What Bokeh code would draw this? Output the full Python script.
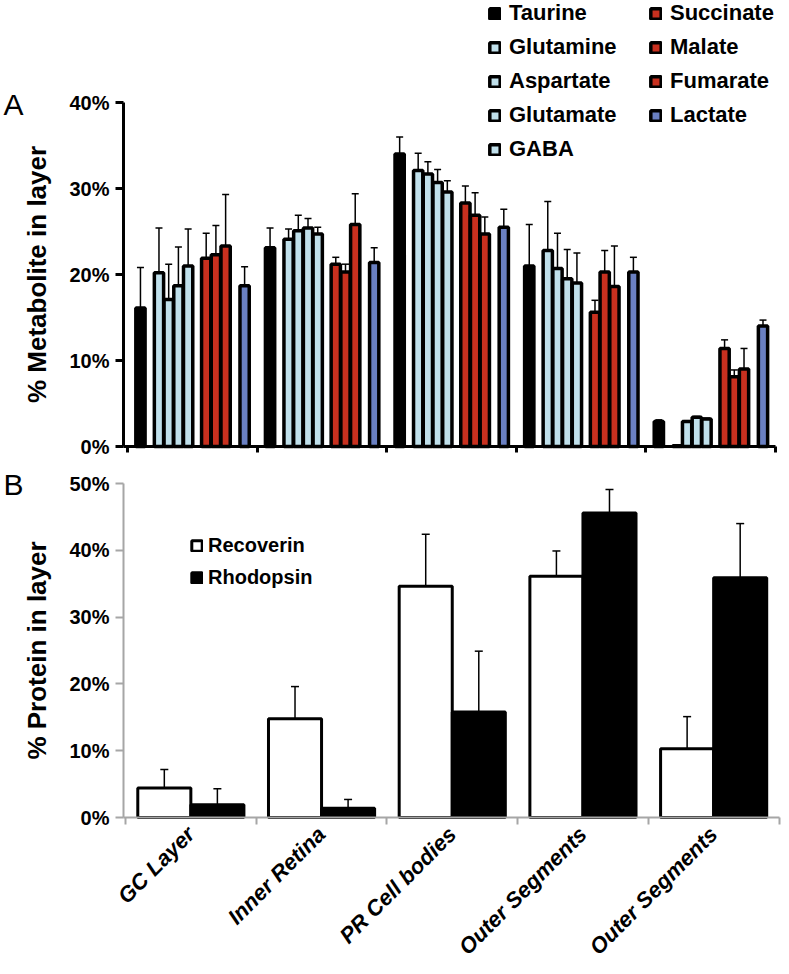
import math
from bokeh.plotting import figure
from bokeh.models import (ColumnDataSource, Range1d, FixedTicker, PrintfTickFormatter,
                          Whisker, TeeHead, Legend, LegendItem, Label)
from bokeh.layouts import column
from bokeh.embed import file_html
from bokeh.resources import INLINE

# ---------------- data ----------------
layers = ["GC Layer", "Inner Retina", "PR Cell bodies", "Outer Segments", "Outer Segments"]

metabolites = ["Taurine", "Glutamine", "Aspartate", "Glutamate", "GABA",
               "Succinate", "Malate", "Fumarate", "Lactate"]

taurine = [16.1, 23.1, 34.0, 21.0, 2.9]
taurine_err = [4.7, 2.3, 2.0, 4.8, 0.2]
glutamine = [20.2, 24.1, 32.1, 22.8, 0.1]
glutamine_err = [5.2, 1.2, 2.0, 5.7, 0.0]
aspartate = [17.1, 25.1, 31.7, 20.7, 2.9]
aspartate_err = [4.1, 1.8, 1.4, 4.1, 0.1]
glutamate = [18.7, 25.4, 30.7, 19.5, 3.4]
glutamate_err = [4.5, 1.1, 1.5, 3.4, 0.1]
gaba = [21.0, 24.7, 29.6, 19.0, 3.2]
gaba_err = [4.3, 0.8, 1.3, 3.5, 0.1]
succinate = [21.9, 21.2, 28.3, 15.6, 11.4]
succinate_err = [2.9, 0.8, 2.0, 1.4, 1.0]
malate = [22.3, 20.3, 26.9, 20.3, 8.1]
malate_err = [3.4, 0.9, 2.6, 2.5, 0.8]
fumarate = [23.3, 25.8, 24.7, 18.6, 9.0]
fumarate_err = [6.0, 3.6, 2.0, 4.7, 2.4]
lactate = [18.7, 21.4, 25.5, 20.3, 14.0]
lactate_err = [2.2, 1.7, 2.1, 1.7, 0.7]

met_values = [taurine, glutamine, aspartate, glutamate, gaba, succinate, malate, fumarate, lactate]
met_errors = [taurine_err, glutamine_err, aspartate_err, glutamate_err, gaba_err,
              succinate_err, malate_err, fumarate_err, lactate_err]

proteins = ["Recoverin", "Rhodopsin"]
recoverin = [4.4, 14.8, 34.6, 36.1, 10.3]
recoverin_err = [2.8, 4.8, 7.8, 3.8, 4.8]
rhodopsin = [1.9, 1.4, 15.8, 45.6, 35.9]
rhodopsin_err = [2.4, 1.3, 9.1, 3.5, 8.1]

yticks_a = [0, 10, 20, 30, 40]
yticks_b = [0, 10, 20, 30, 40, 50]

# ---------------- styles / layout ----------------
LIGHT_BLUE = "#c0e0eb"
RED = "#c8301f"
LACT = "#6a80c2"
met_colors = ["#000000", LIGHT_BLUE, LIGHT_BLUE, LIGHT_BLUE, LIGHT_BLUE, RED, RED, RED, LACT]
slot_offsets = [1.4, 3.4, 4.45, 5.5, 6.55, 8.5, 9.55, 10.6, 12.65]
SLOTS = 14
GRAY = "#a6a6a6"
FONT = "Liberation Sans"
W = 785

# panel A geometry (pixels in the page)
A_BOTTOM, A_AXIS_X, A_G0_X, A_SLOT_PX = 463, 123, 127, 9.257
A_ZERO_Y, A_PX_PER = 446, 8.6
# panel B geometry
B_TOP, B_BOTTOM, B_AXIS_X, B_G0_X, B_GROUP_PX = 463, 967, 123, 125, 130.7
B_ZERO_Y, B_PX_PER = 817, 6.68


def style_common(p):
    p.xgrid.visible = False
    p.ygrid.visible = False
    p.outline_line_color = None
    p.background_fill_color = "white"
    p.border_fill_color = "white"


def style_yaxis(ax, color, width, title):
    ax.axis_line_color = color
    ax.axis_line_width = width
    ax.major_tick_line_color = color
    ax.major_tick_line_width = width
    ax.major_tick_out = 8
    ax.major_tick_in = 0
    ax.minor_tick_line_color = None
    ax.formatter = PrintfTickFormatter(format="%d%%")
    ax.major_label_text_font = FONT
    ax.major_label_text_font_size = "20px"
    ax.major_label_text_font_style = "bold"
    ax.major_label_text_color = "black"
    ax.major_label_standoff = 6
    ax.axis_label = title
    ax.axis_label_text_font = FONT
    ax.axis_label_text_font_size = "26px"
    ax.axis_label_text_font_style = "bold"
    ax.axis_label_text_color = "black"
    ax.axis_label_standoff = 14


def style_legend(lg, size, lh, sp, standoff):
    lg.glyph_width = 13
    lg.glyph_height = 13
    lg.label_height = lh
    lg.spacing = sp
    lg.padding = 0
    lg.margin = 0
    lg.label_standoff = standoff
    lg.border_line_color = None
    lg.background_fill_alpha = 0
    lg.label_text_font = FONT
    lg.label_text_font_size = size
    lg.label_text_font_style = "bold"
    lg.label_text_color = "black"


# ---------------- panel A ----------------
a_x0 = -A_G0_X / A_SLOT_PX
a_x1 = (W - A_G0_X) / A_SLOT_PX
a_ytop = A_ZERO_Y / A_PX_PER
a_ybot = -(A_BOTTOM - A_ZERO_Y) / A_PX_PER
a_axis_at = (A_AXIS_X - A_G0_X) / A_SLOT_PX

pA = figure(frame_width=W, frame_height=A_BOTTOM,
            x_range=Range1d(a_x0, a_x1), y_range=Range1d(a_ybot, a_ytop),
            output_backend="svg", toolbar_location=None,
            min_border_left=0, min_border_right=0, min_border_top=0, min_border_bottom=0)
style_common(pA)

renderers_a = []
for i, (name, vals, errs) in enumerate(zip(metabolites, met_values, met_errors)):
    xs = [g * SLOTS + slot_offsets[i] for g in range(len(layers))]
    src = ColumnDataSource(dict(x=xs, top=vals, upper=[v + e for v, e in zip(vals, errs)]))
    r = pA.vbar(x="x", top="top", bottom=0, width=1.0, source=src,
                fill_color=met_colors[i], line_color="black", line_width=3.5)
    renderers_a.append(r)
    pA.add_layout(Whisker(source=src, base="x", lower="top", upper="upper", dimension="height",
                          line_color="black", line_width=1.5,
                          upper_head=TeeHead(size=7, line_width=1.5, line_color="black"),
                          lower_head=None))

ya = pA.yaxis[0]
ya.fixed_location = a_axis_at
ya.bounds = (0, yticks_a[-1])
ya.ticker = FixedTicker(ticks=yticks_a)
style_yaxis(ya, "black", 3, "% Metabolite in layer")

xa = pA.xaxis[0]
xa.fixed_location = 0
xa.bounds = (a_axis_at, SLOTS * len(layers))
xa.ticker = FixedTicker(ticks=[g * SLOTS for g in range(len(layers) + 1)])
xa.major_label_text_color = None
xa.axis_line_width = 3
xa.major_tick_line_width = 3
xa.major_tick_out = 6
xa.major_tick_in = 0
xa.minor_tick_line_color = None

leg_a1 = Legend(items=[LegendItem(label=metabolites[i], renderers=[renderers_a[i]]) for i in range(5)],
                location=(488, A_BOTTOM - 162))
leg_a2 = Legend(items=[LegendItem(label=metabolites[i], renderers=[renderers_a[i]]) for i in range(5, 9)],
                location=(649, A_BOTTOM - 128))
for lg in (leg_a1, leg_a2):
    style_legend(lg, "22px", 25, 8, 8)
    pA.add_layout(lg, "center")

pA.add_layout(Label(x=3, y=A_BOTTOM - 104, x_units="screen", y_units="screen", text="A",
                    text_font=FONT, text_font_size="30px", text_color="black",
                    text_baseline="alphabetic"))

# ---------------- panel B ----------------
b_x0 = -B_G0_X / B_GROUP_PX
b_x1 = (W - B_G0_X) / B_GROUP_PX
b_ytop = (B_ZERO_Y - B_TOP) / B_PX_PER
b_ybot = -(B_BOTTOM - B_ZERO_Y) / B_PX_PER
b_axis_at = (B_AXIS_X - B_G0_X) / B_GROUP_PX

pB = figure(frame_width=W, frame_height=B_BOTTOM - B_TOP,
            x_range=Range1d(b_x0, b_x1), y_range=Range1d(b_ybot, b_ytop),
            output_backend="svg", toolbar_location=None,
            min_border_left=0, min_border_right=0, min_border_top=0, min_border_bottom=0)
style_common(pB)

BW = 0.406
renderers_b = []
for vals, errs, fill, shift in [(recoverin, recoverin_err, "white", -BW / 2),
                                (rhodopsin, rhodopsin_err, "black", BW / 2)]:
    xs = [g + 0.5 + shift for g in range(len(layers))]
    src = ColumnDataSource(dict(x=xs, top=vals, upper=[v + e for v, e in zip(vals, errs)]))
    r = pB.vbar(x="x", top="top", bottom=0, width=BW, source=src,
                fill_color=fill, line_color="black", line_width=3)
    renderers_b.append(r)
    pB.add_layout(Whisker(source=src, base="x", lower="top", upper="upper", dimension="height",
                          line_color="black", line_width=1.5,
                          upper_head=TeeHead(size=8, line_width=1.5, line_color="black"),
                          lower_head=None))

yb = pB.yaxis[0]
yb.fixed_location = b_axis_at
yb.bounds = (0, yticks_b[-1])
yb.ticker = FixedTicker(ticks=yticks_b)
style_yaxis(yb, GRAY, 2, "% Protein in layer")

xb = pB.xaxis[0]
centers = [g + 0.5 for g in range(len(layers))]
xb.fixed_location = 0
xb.bounds = (b_axis_at, len(layers))
xb.ticker = FixedTicker(ticks=centers, minor_ticks=list(range(len(layers) + 1)))
xb.major_label_overrides = {c: name for c, name in zip(centers, layers)}
xb.major_tick_line_color = None
xb.minor_tick_line_color = GRAY
xb.minor_tick_line_width = 2
xb.minor_tick_out = 7
xb.minor_tick_in = 0
xb.axis_line_color = GRAY
xb.axis_line_width = 2
xb.major_label_orientation = math.pi / 4
xb.major_label_text_font = FONT
xb.major_label_text_font_size = "22px"
xb.major_label_text_font_style = "bold italic"
xb.major_label_text_color = "black"
xb.major_label_standoff = 6

leg_b = Legend(items=[LegendItem(label=proteins[i], renderers=[renderers_b[i]]) for i in range(2)],
               location=(190, B_BOTTOM - 589))
style_legend(leg_b, "20px", 23, 9, 5)
pB.add_layout(leg_b, "center")

pB.add_layout(Label(x=3, y=B_BOTTOM - 484, x_units="screen", y_units="screen", text="B",
                    text_font=FONT, text_font_size="30px", text_color="black",
                    text_baseline="alphabetic"))

layout = column(pA, pB, spacing=0)
open("out.html", "w").write(file_html(layout, INLINE))
